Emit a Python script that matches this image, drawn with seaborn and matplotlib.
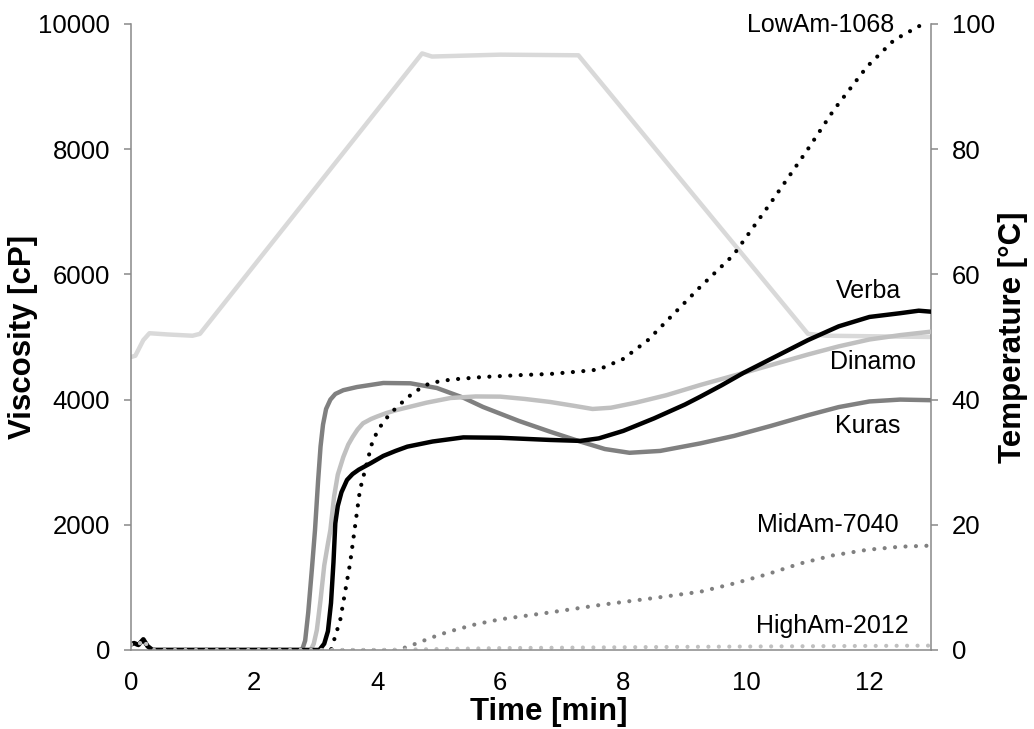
import matplotlib
matplotlib.use("Agg")
import matplotlib.pyplot as plt
import seaborn as sns

# RVA pasting curves
start_t = [0.0, 0.05, 0.12, 0.2, 0.27, 0.35]
start_v = [90, 110, 80, 170, 60, 0]

temp_t = [0.0, 0.07, 0.2, 0.3, 0.6, 1.0, 1.12, 4.73, 4.89, 6.0, 7.27, 11.0, 11.3, 13.0]
temp_c = [46.8, 47.0, 49.5, 50.6, 50.4, 50.2, 50.5, 95.3, 94.8, 95.1, 95.0, 50.5, 50.2, 50.0]

kuras_t = start_t + [2.78, 2.83, 2.88, 2.94, 2.99, 3.04, 3.08, 3.12, 3.17, 3.24, 3.32, 3.45,
                     3.67, 4.1, 4.54, 4.97, 5.4, 5.72, 6.3, 6.81, 7.3, 7.7, 8.1, 8.6, 9.25,
                     9.8, 10.4, 11.0, 11.5, 12.0, 12.5, 13.0]
kuras_v = start_v + [0, 150, 600, 1300, 1917, 2700, 3250, 3600, 3850, 4000, 4090, 4150,
                     4200, 4265, 4260, 4185, 4030, 3882, 3660, 3487, 3330, 3210, 3150, 3180,
                     3300, 3420, 3580, 3750, 3880, 3970, 4000, 3990]

dinamo_t = start_t + [2.92, 2.97, 3.02, 3.08, 3.14, 3.2, 3.24, 3.3, 3.36, 3.45, 3.53, 3.6,
                      3.68, 3.77, 3.9, 4.0, 4.15, 4.32, 4.8, 5.19, 5.6, 6.0, 6.4, 6.81, 7.2,
                      7.5, 7.8, 8.2, 8.7, 9.25, 9.95, 10.5, 11.0, 11.5, 12.0, 12.5, 13.0]
dinamo_v = start_v + [0, 100, 320, 800, 1350, 1700, 1917, 2450, 2800, 3083, 3280, 3400,
                      3520, 3621, 3690, 3730, 3785, 3834, 3950, 4025, 4050, 4047, 4010, 3962,
                      3900, 3850, 3870, 3950, 4070, 4233, 4425, 4580, 4720, 4850, 4960, 5030,
                      5085]

verba_t = start_t + [3.06, 3.14, 3.2, 3.25, 3.29, 3.32, 3.36, 3.42, 3.51, 3.6, 3.7, 3.89,
                     4.1, 4.3, 4.49, 4.9, 5.4, 6.0, 6.81, 7.3, 7.6, 8.0, 8.5, 9.0, 9.25, 9.6,
                     9.95, 10.4, 11.0, 11.5, 12.0, 12.5, 12.8, 13.0]
verba_v = start_v + [0, 100, 300, 750, 1400, 2024, 2300, 2520, 2716, 2810, 2880, 2981,
                     3100, 3180, 3248, 3330, 3396, 3390, 3355, 3340, 3380, 3500, 3700, 3920,
                     4046, 4230, 4425, 4650, 4950, 5170, 5320, 5380, 5420, 5404]

lowam_t = start_t + [3.25, 3.4, 3.56, 3.72, 3.93, 4.1, 4.32, 4.6, 4.86, 5.2, 5.72, 6.3,
                     6.81, 7.3, 7.6, 8.0, 8.4, 8.8, 9.25, 9.79, 10.4, 10.99, 11.42, 11.96,
                     12.4, 12.87]
lowam_v = start_v + [0, 480, 1385, 2556, 3355, 3650, 3882, 4120, 4265, 4320, 4361, 4390,
                     4409, 4450, 4480, 4650, 4950, 5350, 5800, 6310, 7150, 7987, 8626, 9318,
                     9744, 10000]

midam_t = start_t + [4.3, 4.5, 4.65, 5.0, 5.19, 5.6, 6.0, 6.81, 7.63, 8.5, 9.25, 9.79,
                     10.34, 10.87, 11.4, 11.96, 12.5, 13.0]
midam_v = start_v + [0, 50, 110, 240, 300, 410, 490, 600, 720, 830, 930, 1060,
                     1210, 1380, 1510, 1600, 1650, 1667]

higham_t = start_t + [4.0, 6.0, 9.0, 13.0]
higham_v = start_v + [0, 30, 50, 70]

labels = ["LowAm-1068", "Verba", "Dinamo", "Kuras", "MidAm-7040", "HighAm-2012"]
label_x = [11.2, 11.98, 12.05, 11.97, 11.33, 11.39]
label_y = [9984, 5740, 4596, 3583, 1997, 388]

sns.set_style("white")
plt.rcParams["font.family"] = ["Liberation Sans", "DejaVu Sans"]
plt.rcParams["text.color"] = "black"
plt.rcParams["axes.labelcolor"] = "black"

spine_col = "#898989"
dots = (0, (0.01, 2.5))

fig = plt.figure(figsize=(10.34, 7.29), dpi=100)
ax = fig.add_axes([0.1267, 0.1084, 0.7737, 0.8587])
ax2 = ax.twinx()

# temperature sits behind the viscosity curves
ax.set_zorder(ax2.get_zorder() + 1)
ax.patch.set_visible(False)

sns.lineplot(x=temp_t, y=temp_c, ax=ax2, color="#d9d9d9", linewidth=3.2)

sns.lineplot(x=kuras_t, y=kuras_v, ax=ax, color="#808080", linewidth=3.2)
sns.lineplot(x=dinamo_t, y=dinamo_v, ax=ax, color="#c0c0c0", linewidth=3.2)
sns.lineplot(x=verba_t, y=verba_v, ax=ax, color="black", linewidth=3.2)
sns.lineplot(x=lowam_t, y=lowam_v, ax=ax, color="black", linewidth=3,
             linestyle=dots, dash_capstyle="round")
sns.lineplot(x=midam_t, y=midam_v, ax=ax, color="#808080", linewidth=3,
             linestyle=dots, dash_capstyle="round")
sns.lineplot(x=higham_t, y=higham_v, ax=ax, color="#c0c0c0", linewidth=3,
             linestyle=dots, dash_capstyle="round")

for name, lx, ly in zip(labels, label_x, label_y):
    ax.text(lx, ly, name, ha="center", va="center", fontsize=18, color="black")

ax.set_xlim(0, 13)
ax.set_ylim(0, 10000)
ax2.set_ylim(0, 100)
ax.set_xticks(range(0, 13, 2))
ax.set_yticks(range(0, 10001, 2000))
ax2.set_yticks(range(0, 101, 20))

for a in (ax, ax2):
    for side in a.spines:
        a.spines[side].set_color(spine_col)
        a.spines[side].set_linewidth(1.1)
    a.spines["top"].set_visible(False)
    a.tick_params(colors=spine_col, labelcolor="black", labelsize=18.5,
                  length=5, width=1.1, direction="out", pad=10)
ax.spines["right"].set_visible(False)
ax2.spines["left"].set_visible(False)
ax2.spines["bottom"].set_visible(False)

ax.set_xlabel("Time [min]", fontsize=22.5, fontweight="bold", va="center")
ax.xaxis.set_label_coords(0.5225, -0.099)
ax.set_ylabel("Viscosity [cP]", fontsize=22.5, fontweight="bold", va="center")
ax.yaxis.set_label_coords(-0.135, 0.5)
ax2.set_ylabel("Temperature [°C]", fontsize=22.5, fontweight="bold", va="center",
               rotation=90)
ax2.yaxis.set_label_coords(1.1025, 0.5)

fig.savefig("out.png", dpi=100)
